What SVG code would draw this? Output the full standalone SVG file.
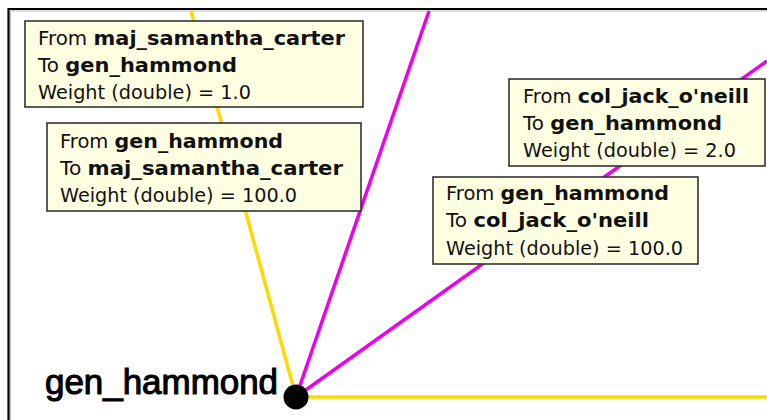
<svg xmlns="http://www.w3.org/2000/svg" width="767" height="420" viewBox="0 0 767 420">
<style>
.tip{fill:#FFFFE1;stroke:#333;stroke-width:1.6}
.tt{font-family:"DejaVu Sans",Verdana,sans-serif;font-size:19px;fill:#111}
.b{font-weight:bold;font-size:20px}
.ey{stroke:#FFD800;stroke-width:3.5;fill:none}
.em{stroke:#EE00EE;stroke-width:3.5;fill:none}
.lbl{font-family:"Liberation Sans",Arial,sans-serif;font-size:35px;fill:#000;stroke:#000;stroke-width:1.1}
</style>
<rect x="0" y="0" width="767" height="420" fill="#fff"/>
<path d="M8.5 420 V9 H767" fill="none" stroke="#000" stroke-width="2.2"/>
<path d="M10.5 420 V11 H767" fill="none" stroke="#bbb" stroke-width="1"/>
<g id="connectors">
<line class="ey" x1="296" y1="397" x2="767" y2="397"/>
<line class="ey" x1="296" y1="397" x2="191" y2="11"/>
<line class="em" x1="296" y1="397" x2="429" y2="11"/>
<line class="em" x1="296" y1="397" x2="767" y2="61"/>
</g>
<g id="gen_hammond">
<circle cx="296" cy="397" r="12.5" fill="#000"/>
<text class="lbl" x="45" y="394" textLength="233" lengthAdjust="spacingAndGlyphs">gen_hammond</text>
</g>
<g id="tip1">
<rect class="tip" x="25" y="21" width="338" height="86"/>
<text class="tt" x="38" y="45" textLength="307" lengthAdjust="spacingAndGlyphs">From <tspan class="b">maj_samantha_carter</tspan></text>
<text class="tt" x="38" y="72" textLength="199" lengthAdjust="spacingAndGlyphs">To <tspan class="b">gen_hammond</tspan></text>
<text class="tt" x="38" y="99" textLength="213" lengthAdjust="spacingAndGlyphs">Weight (double) = 1.0</text>
</g>
<g id="tip2">
<rect class="tip" x="47" y="123" width="314" height="88"/>
<text class="tt" x="60" y="148" textLength="223" lengthAdjust="spacingAndGlyphs">From <tspan class="b">gen_hammond</tspan></text>
<text class="tt" x="60" y="175" textLength="283" lengthAdjust="spacingAndGlyphs">To <tspan class="b">maj_samantha_carter</tspan></text>
<text class="tt" x="60" y="202" textLength="237" lengthAdjust="spacingAndGlyphs">Weight (double) = 100.0</text>
</g>
<g id="tip3">
<rect class="tip" x="509" y="79" width="256" height="87"/>
<text class="tt" x="523" y="103" textLength="226" lengthAdjust="spacingAndGlyphs">From <tspan class="b">col_jack_o'neill</tspan></text>
<text class="tt" x="523" y="130" textLength="199" lengthAdjust="spacingAndGlyphs">To <tspan class="b">gen_hammond</tspan></text>
<text class="tt" x="523" y="157" textLength="213" lengthAdjust="spacingAndGlyphs">Weight (double) = 2.0</text>
</g>
<g id="tip4">
<rect class="tip" x="433" y="177" width="265" height="87"/>
<text class="tt" x="446" y="200" textLength="223" lengthAdjust="spacingAndGlyphs">From <tspan class="b">gen_hammond</tspan></text>
<text class="tt" x="446" y="227" textLength="203" lengthAdjust="spacingAndGlyphs">To <tspan class="b">col_jack_o'neill</tspan></text>
<text class="tt" x="446" y="255" textLength="237" lengthAdjust="spacingAndGlyphs">Weight (double) = 100.0</text>
</g>
</svg>
